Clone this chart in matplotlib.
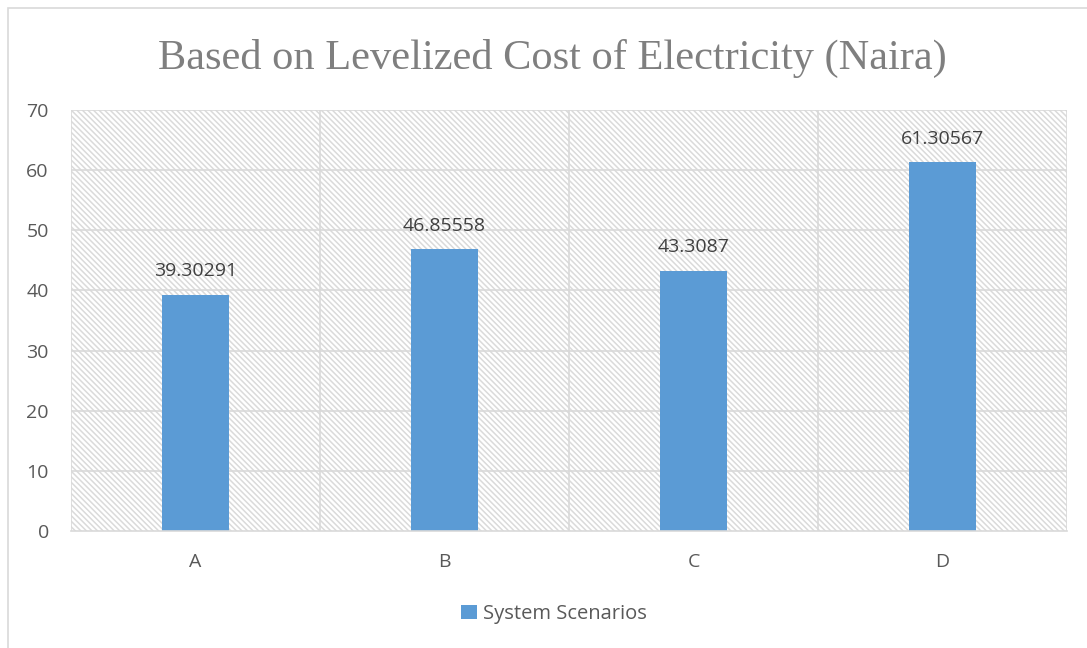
import numpy as np
import matplotlib.pyplot as plt
from matplotlib.patches import Rectangle

scenarios = ['A', 'B', 'C', 'D']
lcoe = [39.30291, 46.85558, 43.3087, 61.30567]
value_labels = ['39.30291', '46.85558', '43.3087', '61.30567']

bar_color = '#5b9bd5'
text_color = '#595959'
grid_color = '#d9d9d9'

plt.rcParams['hatch.linewidth'] = 1.1

fig = plt.figure(figsize=(10.87, 6.48), dpi=100)
# outer chart border
fig.patches.append(Rectangle((8 / 1087, -0.01), 1.02, 1 - 8 / 648 + 0.01, transform=fig.transFigure,
                             fill=False, edgecolor='#d9d9d9', linewidth=1.2))

ax = fig.add_axes([71 / 1087, 1 - 531 / 648, 996 / 1087, 421 / 648])
x = np.arange(len(scenarios))

# hatched plot area background
ax.add_patch(Rectangle((-0.5, 0), 4, 70, facecolor='white', edgecolor='#dadada', linewidth=0,
                       hatch='\\\\\\\\\\\\', zorder=0))
for y in range(10, 80, 10):
    ax.axhline(y, color=grid_color, linewidth=1.2, zorder=1)
for xb in np.arange(-0.5, 4, 1.0):
    ax.axvline(xb, color=grid_color, linewidth=1.2, zorder=1)

ax.bar(x, lcoe, width=0.27, color=bar_color, zorder=2, label='System Scenarios')
for xi, v, s in zip(x, lcoe, value_labels):
    ax.text(xi, v + 2.4, s, ha='center', va='bottom', fontsize=14, color='#404040', family='Open Sans')

ax.set_xlim(-0.5, 3.5)
ax.set_ylim(0, 70)
ax.set_yticks(range(0, 80, 10))
ax.set_xticks(x)
ax.set_xticklabels(scenarios)
for lab in ax.get_xticklabels() + ax.get_yticklabels():
    lab.set_family('Open Sans')
    lab.set_fontsize(14)
    lab.set_color(text_color)
ax.tick_params(axis='both', length=0)
ax.tick_params(axis='x', pad=16)
ax.tick_params(axis='y', pad=16)
for side in ['top', 'right', 'left']:
    ax.spines[side].set_visible(False)
ax.spines['bottom'].set_color(grid_color)
ax.spines['bottom'].set_linewidth(1.2)

fig.text(552 / 1087, 1 - 58 / 648, 'Based on Levelized Cost of Electricity (Naira)', ha='center', va='center',
         family='Liberation Serif', fontsize=30.5, color='#7f7f7f')

fig.legend(handles=[ax.patches[-1]], labels=['System Scenarios'], loc='center',
           bbox_to_anchor=(554 / 1087, 1 - 614 / 648), frameon=False, handlelength=0.75,
           handleheight=0.75, handletextpad=0.3,
           prop={'family': 'Open Sans', 'size': 14.5}, labelcolor=text_color)

fig.savefig('out.png', dpi=100)
